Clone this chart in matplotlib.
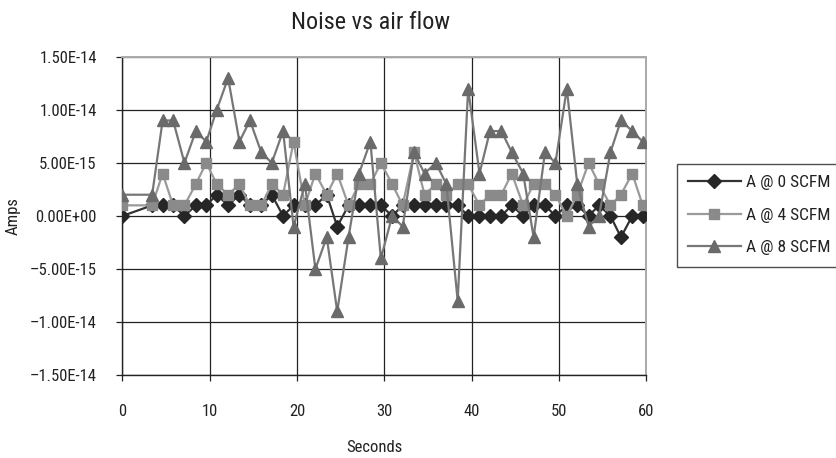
import matplotlib
matplotlib.use("Agg")
import matplotlib.pyplot as plt
from matplotlib import font_manager

# sample times (seconds)
seconds = [0, 3.4, 4.6, 5.8, 7.1, 8.4, 9.6, 10.8, 12.1, 13.4, 14.6, 15.9,
           17.1, 18.4, 19.6, 20.9, 22.1, 23.4, 24.6, 25.9, 27.1, 28.4, 29.6,
           30.9, 32.1, 33.4, 34.6, 35.9, 37.1, 38.4, 39.6, 40.9, 42.1, 43.4,
           44.6, 45.9, 47.1, 48.4, 49.6, 50.9, 52.1, 53.4, 54.6, 55.9, 57.1,
           58.4, 59.6]

# currents in units of 1E-15 A
a0_scfm = [0, 1, 1, 1, 0, 1, 1, 2, 1, 2, 1, 1, 2, 0, 1, 1, 1, 2, -1, 1, 1, 1,
           1, 0, 1, 1, 1, 1, 1, 1, 0, 0, 0, 0, 1, 0, 1, 1, 0, 1, 1, 0, 1, 0,
           -2, 0, 0]
a4_scfm = [1, 1, 4, 1, 1, 3, 5, 3, 2, 3, 1, 1, 3, 2, 7, 1, 4, 2, 4, 1, 3, 3,
           5, 3, 1, 6, 2, 3, 2, 3, 3, 1, 2, 2, 4, 1, 3, 3, 2, 0, 2, 5, 3, 1,
           2, 4, 1]
a8_scfm = [2, 2, 9, 9, 5, 8, 7, 10, 13, 7, 9, 6, 5, 8, -1, 3, -5, -2, -9, -2,
           4, 7, -4, 0, -1, 6, 4, 5, 3, -8, 12, 4, 8, 8, 6, 4, -2, 6, 5, 12,
           3, -1, 0, 6, 9, 8, 7]

series_names = ["A @ 0 SCFM", "A @ 4 SCFM", "A @ 8 SCFM"]
y_ticks = [-15, -10, -5, 0, 5, 10, 15]
y_tick_labels = ["\u20131.50E-14", "\u20131.00E-14", "\u20135.00E-15", "0.00E+00",
                 "5.00E-15", "1.00E-14", "1.50E-14"]
x_ticks = [0, 10, 20, 30, 40, 50, 60]

installed = {f.name for f in font_manager.fontManager.ttflist}
family = [f for f in ["Liberation Sans Narrow", "Roboto Condensed", "DejaVu Sans"] if f in installed]
plt.rcParams["font.family"] = family

fig = plt.figure(figsize=(8.36, 4.58), dpi=100)
ax = fig.add_axes([0.1465, 0.181, 0.6265, 0.695])

styles = [
    dict(color="#333333", marker="D", markersize=7, markerfacecolor="#262626",
         markeredgecolor="#262626"),
    dict(color="#9a9a9a", marker="s", markersize=7, markerfacecolor="#8a8a8a",
         markeredgecolor="#8a8a8a"),
    dict(color="#777777", marker="^", markersize=8.5, markerfacecolor="#6a6a6a",
         markeredgecolor="#6a6a6a"),
]
for vals, name, st in zip([a0_scfm, a4_scfm, a8_scfm], series_names, styles):
    ax.plot(seconds, vals, label=name, linewidth=1.6, zorder=3, **st)

ax.set_xlim(0, 60)
ax.set_ylim(-15, 15)
ax.set_xticks(x_ticks)
ax.set_yticks(y_ticks)
ax.set_yticklabels(y_tick_labels)
ax.grid(True, color="#222222", linewidth=0.9, zorder=0)
ax.tick_params(axis="both", direction="out", length=4, width=0.9, color="#222222",
               labelsize=12, labelcolor="#222222")
ax.tick_params(axis="x", pad=17)
ax.tick_params(axis="y", pad=14.5)
ax.tick_params(top=False, right=False)

for side in ["left", "bottom"]:
    ax.spines[side].set_color("#222222")
    ax.spines[side].set_linewidth(1.0)
for side in ["top", "right"]:
    ax.spines[side].set_color("#aaaaaa")
    ax.spines[side].set_linewidth(1.4)

fig.text(0.443, 0.950, "Noise vs air flow", ha="center", va="center",
         fontsize=17.5, color="#222222")
fig.text(0.448, 0.022, "Seconds", ha="center", va="center", fontsize=12,
         color="#222222")
fig.text(0.016, 0.528, "Amps", ha="center", va="center", rotation=90,
         fontsize=12, color="#222222")

leg = ax.legend(loc="center left", bbox_to_anchor=(0.81, 0.53),
                bbox_transform=fig.transFigure, frameon=True, fancybox=False,
                edgecolor="#222222", fontsize=12.5, handlelength=3.0,
                labelspacing=1.0, borderpad=0.65, handletextpad=0.3,
                borderaxespad=0)
leg.get_frame().set_linewidth(1.0)
for t in leg.get_texts():
    t.set_color("#222222")

fig.savefig("out.png", dpi=100)
